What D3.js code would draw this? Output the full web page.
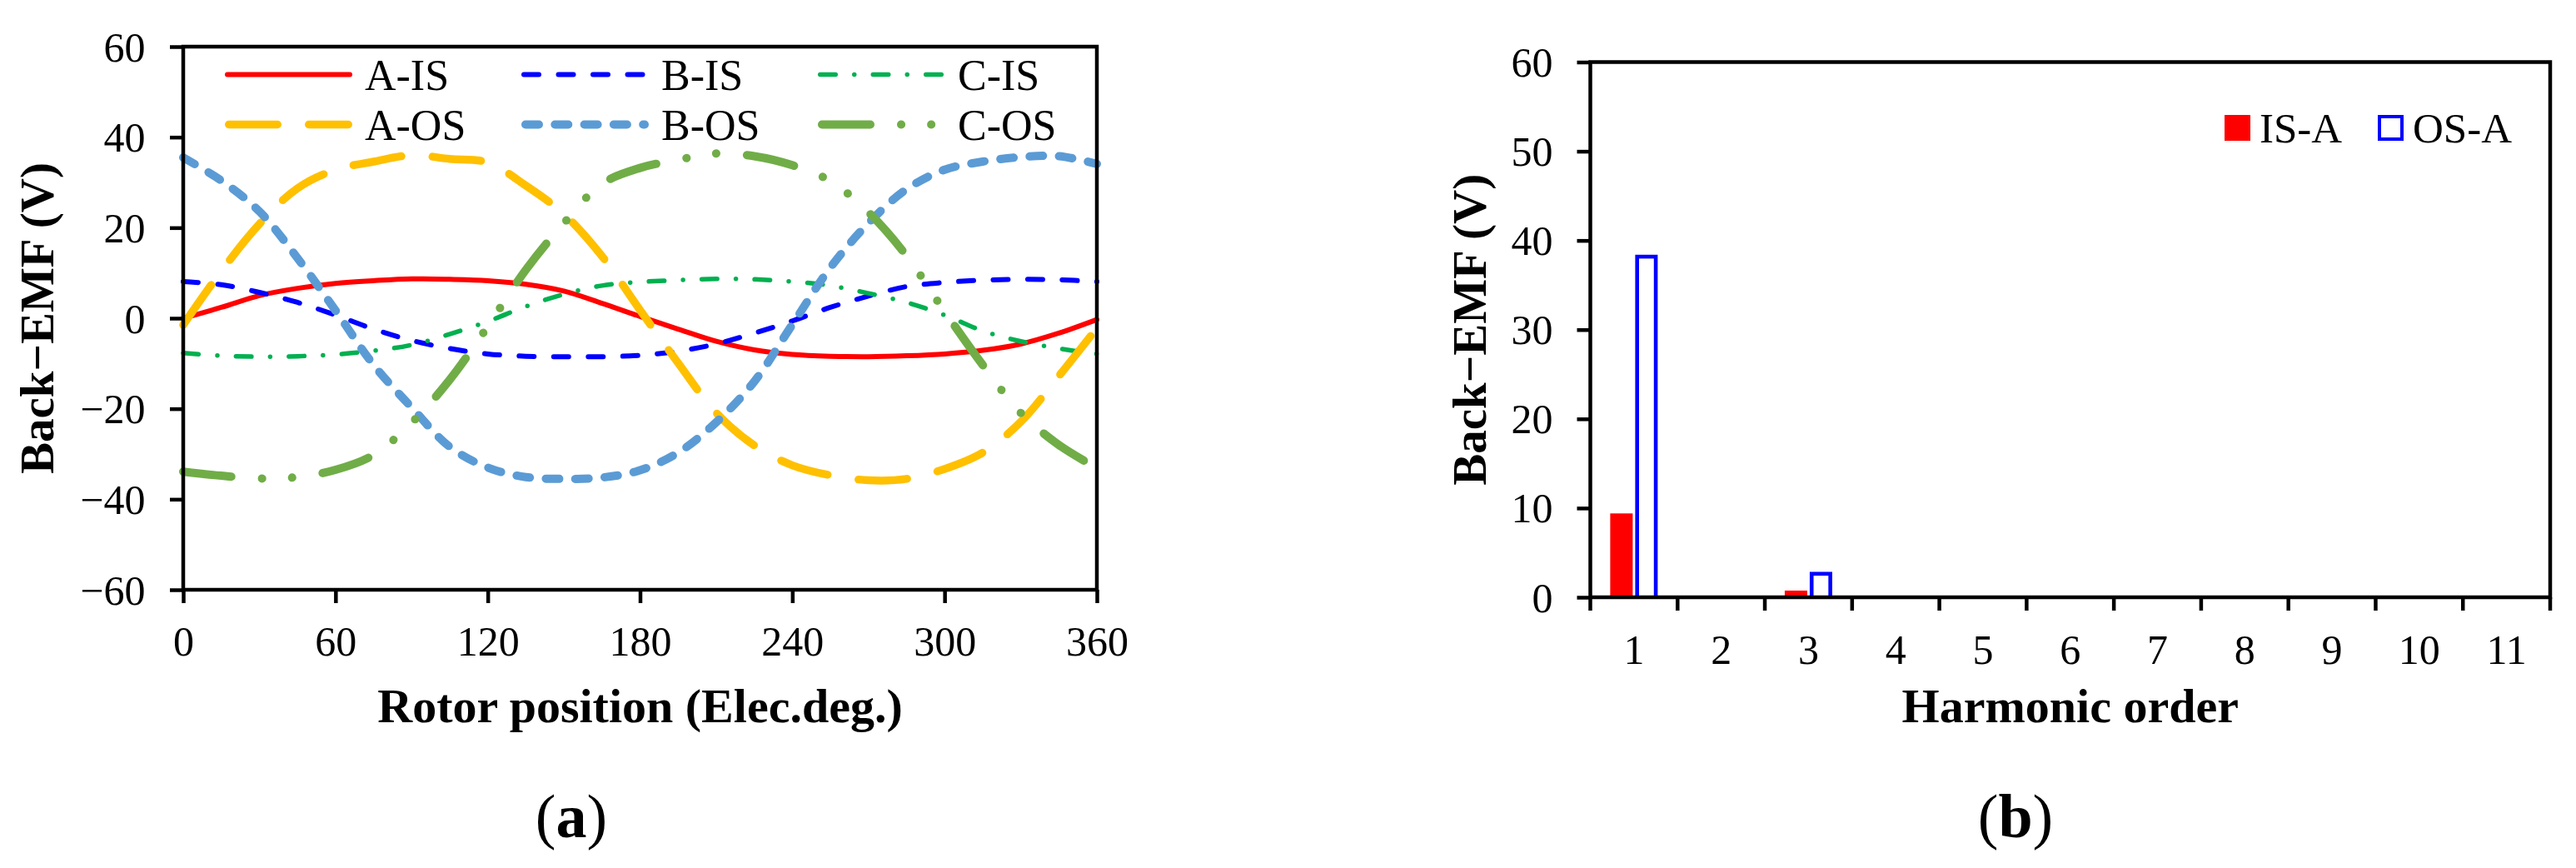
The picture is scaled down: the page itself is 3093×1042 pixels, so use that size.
<!DOCTYPE html>
<html>
<head>
<meta charset="utf-8">
<script src="https://cdn.jsdelivr.net/npm/d3@7"></script>
<style>
  body { margin: 0; background: #fff; }
  svg text { font-family: "Liberation Serif", "Times New Roman", serif; fill: #000; }
</style>
</head>
<body>
<div id="chart"></div>
<script>
// rotor position (elec. deg.), one reading every 15 deg
var angles = [0, 15, 30, 45, 60, 75, 90, 105, 120, 135, 150, 165, 180,
              195, 210, 225, 240, 255, 270, 285, 300, 315, 330, 345, 360];

// back-EMF, V
var aIS = [0, 2.4, 5.0, 6.6, 7.7, 8.3, 8.7, 8.6, 8.3, 7.5, 6.0, 3.3, 0.4,
           -2.4, -5.1, -7.0, -8.0, -8.4, -8.5, -8.3, -7.9, -7.1, -5.7, -3.3, -0.3];
var bIS = [8.1, 7.4, 5.7, 3.5, 0.7, -2.4, -4.9, -6.7, -7.9, -8.4, -8.5, -8.5, -8.2,
           -7.3, -5.7, -3.3, -0.6, 2.4, 4.9, 7.0, 7.9, 8.4, 8.6, 8.5, 8.1];
var cIS = [-7.7, -8.3, -8.5, -8.4, -8.0, -7.2, -5.9, -3.5, -0.7, 2.6, 5.3, 7.2, 8.0,
           8.4, 8.7, 8.6, 8.1, 7.2, 5.5, 3.5, 0.7, -2.8, -5.1, -6.7, -7.9];
var aOS = [-1.5, 10.4, 20.8, 28.7, 32.8, 34.6, 36.0, 35.2, 34.4, 29.3, 23.0, 13.7, 1.8,
           -9.9, -20.9, -28.1, -32.5, -34.7, -35.8, -35.5, -33.3, -29.7, -22.9, -12.8, -2.2];
var bOS = [35.5, 30.4, 23.6, 13.3, 1.7, -10.3, -19.7, -28.4, -33.0, -35.1, -35.5, -35.2, -33.6,
           -29.7, -23.0, -14.0, -1.4, 11.2, 21.0, 28.5, 32.8, 34.6, 35.6, 35.8, 34.1];
var cOS = [-33.9, -34.8, -35.4, -35.1, -33.5, -30.2, -23.1, -13.6, -1.8, 10.7, 21.0, 29.7, 33.2,
           35.0, 36.4, 35.8, 33.8, 30.3, 23.4, 13.8, 1.5, -10.3, -20.9, -28.0, -33.1];

var seriesNames = ['A-IS', 'B-IS', 'C-IS', 'A-OS', 'B-OS', 'C-OS'];
var seriesValues = [aIS, bIS, cIS, aOS, bOS, cOS];

// panel (b): harmonic amplitudes, V
var harmonics = [1, 2, 3, 4, 5, 6, 7, 8, 9, 10, 11];
var isA = [9.4, 0.15, 0.75, 0.15, 0.15, 0.15, 0.15, 0.15, 0.15, 0.15, 0.15];
var osA = [38.4, 0.15, 2.85, 0.15, 0.15, 0.15, 0.15, 0.15, 0.15, 0.15, 0.15];
var barNames = ['IS-A', 'OS-A'];

var xTicksA = [0, 60, 120, 180, 240, 300, 360];
var yTicksA = [-60, -40, -20, 0, 20, 40, 60];
var yTicksB = [0, 10, 20, 30, 40, 50, 60];

// line looks, same order as seriesNames
var styles = [
  {color: '#FF0000', width: 6,   dash: null},
  {color: '#0000FF', width: 6,   dash: '18,23.5'},
  {color: '#00B050', width: 5.5, dash: '18.5,22.5,0,22.5'},
  {color: '#FFC000', width: 9.5, dash: '58.5,37.5'},
  {color: '#5B9BD5', width: 10,  dash: '16,19.3'},
  {color: '#70AD47', width: 10,  dash: '58,37,0.1,36,0.1,37'}
];

var W = 3093, H = 1042;
var axisW = 4.5, tickLen = 16;

var svg = d3.select('#chart').append('svg')
    .attr('width', W).attr('height', H);

// ---------- panel (a) ----------
var pa = {left: 220, right: 1317, top: 56, bottom: 708};

var x = d3.scaleLinear().domain([0, 360]).range([pa.left, pa.right]);
var y = d3.scaleLinear().domain([-60, 60]).range([pa.bottom, pa.top]);

var ga = svg.append('g');

var line = d3.line()
    .x(function(d) { return x(d[0]); })
    .y(function(d) { return y(d[1]); })
    .curve(d3.curveCatmullRom.alpha(0.5));

ga.append('g').selectAll('path')
    .data(seriesValues)
    .enter()
    .append('path')
    .attr('d', function(vals) {
        return line(angles.map(function(a, i) { return [a, vals[i]]; }));
    })
    .attr('fill', 'none')
    .attr('stroke', function(d, i) { return styles[i].color; })
    .attr('stroke-width', function(d, i) { return styles[i].width; })
    .attr('stroke-dasharray', function(d, i) { return styles[i].dash; })
    .attr('stroke-linecap', 'round')
    .attr('stroke-linejoin', 'round');

// frame
ga.append('rect')
    .attr('x', pa.left).attr('y', pa.top)
    .attr('width', pa.right - pa.left).attr('height', pa.bottom - pa.top)
    .attr('fill', 'none').attr('stroke', '#000').attr('stroke-width', axisW);

var xAxisA = ga.append('g')
    .attr('transform', 'translate(0,' + pa.bottom + ')')
    .call(d3.axisBottom(x).tickValues(xTicksA).tickSize(tickLen).tickSizeOuter(0));
xAxisA.select('.domain').remove();
xAxisA.selectAll('line').attr('stroke-width', axisW);
xAxisA.selectAll('text').attr('y', 79).attr('dy', null)
    .style('font-size', '50px');

var yAxisA = ga.append('g')
    .attr('transform', 'translate(' + pa.left + ',0)')
    .call(d3.axisLeft(y).tickValues(yTicksA).tickSize(tickLen).tickPadding(29.5).tickSizeOuter(0));
yAxisA.select('.domain').remove();
yAxisA.selectAll('line').attr('stroke-width', axisW);
yAxisA.selectAll('text').attr('dy', '0.34em').style('font-size', '50px');

// legend (3 columns x 2 rows)
var legA = ga.append('g').selectAll('g')
    .data(seriesNames)
    .enter()
    .append('g')
    .attr('transform', function(d, i) {
        return 'translate(' + (270 + (i % 3) * 356) + ',' + (i < 3 ? 89.5 : 149.5) + ')';
    });
legA.append('line')
    .attr('x1', function(d, i) { return styles[i].width / 2; })
    .attr('x2', function(d, i) { return 153 - styles[i].width / 2; })
    .attr('stroke', function(d, i) { return styles[i].color; })
    .attr('stroke-width', function(d, i) { return styles[i].width; })
    .attr('stroke-dasharray', function(d, i) { return styles[i].dash; })
    .attr('stroke-linecap', 'round');
legA.append('text')
    .attr('x', 168).attr('y', 18.5)
    .style('font-size', '52px')
    .text(function(d) { return d; });

ga.append('text')
    .attr('x', (pa.left + pa.right) / 2).attr('y', 867)
    .attr('text-anchor', 'middle')
    .style('font-size', '58px').style('font-weight', 'bold')
    .text('Rotor position (Elec.deg.)');

ga.append('text')
    .attr('transform', 'translate(64,' + ((pa.top + pa.bottom) / 2) + ') rotate(-90)')
    .attr('text-anchor', 'middle')
    .style('font-size', '57px').style('font-weight', 'bold')
    .text('Back\u2212EMF (V)');

var capA = ga.append('text')
    .attr('x', 686).attr('y', 1005)
    .attr('text-anchor', 'middle')
    .style('font-size', '74px');
capA.append('tspan').text('(');
capA.append('tspan').style('font-weight', 'bold').text('a');
capA.append('tspan').text(')');

// ---------- panel (b) ----------
var pb = {left: 1909.5, right: 3062, top: 74.5, bottom: 717};

var xb = d3.scaleBand().domain(harmonics).range([pb.left, pb.right]).padding(0);
var yb = d3.scaleLinear().domain([0, 60]).range([pb.bottom, pb.top]);
var groupW = 57;
var xb1 = d3.scaleBand().domain(barNames).range([0, groupW]).paddingInner(0.1);

var gb = svg.append('g');

var barRows = harmonics.map(function(h, i) {
    return {h: h, vals: [isA[i], osA[i]]};
});
var groups = gb.append('g').selectAll('g')
    .data(barRows)
    .enter()
    .append('g')
    .attr('transform', function(d) {
        return 'translate(' + (xb(d.h) + (xb.bandwidth() - groupW) / 2) + ',0)';
    });

// IS-A: solid red
groups.append('rect')
    .attr('x', xb1('IS-A'))
    .attr('y', function(d) { return yb(d.vals[0]); })
    .attr('width', xb1.bandwidth())
    .attr('height', function(d) { return yb(0) - yb(d.vals[0]); })
    .attr('fill', '#FF0000');

// OS-A: blue outline drawn inside the bar
var sw = 4.6;
groups.append('rect')
    .attr('x', xb1('OS-A'))
    .attr('y', function(d) { return yb(d.vals[1]); })
    .attr('width', xb1.bandwidth())
    .attr('height', function(d) { return yb(0) - yb(d.vals[1]); })
    .attr('fill', '#0000FF');
groups.filter(function(d) { return yb(0) - yb(d.vals[1]) > 2 * sw; })
    .append('rect')
    .attr('x', xb1('OS-A') + sw)
    .attr('y', function(d) { return yb(d.vals[1]) + sw; })
    .attr('width', xb1.bandwidth() - 2 * sw)
    .attr('height', function(d) { return yb(0) - yb(d.vals[1]) - sw; })
    .attr('fill', '#fff');

gb.append('rect')
    .attr('x', pb.left).attr('y', pb.top)
    .attr('width', pb.right - pb.left).attr('height', pb.bottom - pb.top)
    .attr('fill', 'none').attr('stroke', '#000').attr('stroke-width', axisW);

// category ticks sit on the band edges, labels in the middle
var edges = harmonics.map(function(h) { return xb(h); }).concat([pb.right]);
var xAxisB = gb.append('g')
    .attr('transform', 'translate(0,' + pb.bottom + ')');
xAxisB.selectAll('line')
    .data(edges)
    .enter()
    .append('line')
    .attr('x1', function(d) { return d; }).attr('x2', function(d) { return d; })
    .attr('y1', 0).attr('y2', tickLen)
    .attr('stroke', '#000').attr('stroke-width', axisW);
xAxisB.selectAll('text')
    .data(harmonics)
    .enter()
    .append('text')
    .attr('x', function(d) { return xb(d) + xb.bandwidth() / 2; })
    .attr('y', 80)
    .attr('text-anchor', 'middle')
    .style('font-size', '50px')
    .text(function(d) { return d; });

var yAxisB = gb.append('g')
    .attr('transform', 'translate(' + pb.left + ',0)')
    .call(d3.axisLeft(yb).tickValues(yTicksB).tickSize(tickLen).tickPadding(29).tickSizeOuter(0));
yAxisB.select('.domain').remove();
yAxisB.selectAll('line').attr('stroke-width', axisW);
yAxisB.selectAll('text').attr('dy', '0.34em').style('font-size', '50px');

// legend
var legB = gb.append('g').selectAll('g')
    .data(barNames)
    .enter()
    .append('g')
    .attr('transform', function(d, i) { return 'translate(' + (2671 + i * 184) + ',138)'; });
legB.append('rect')
    .attr('x', function(d, i) { return i ? 2 : 0; })
    .attr('y', function(d, i) { return i ? 2 : 0; })
    .attr('width', function(d, i) { return i ? 27 : 31; })
    .attr('height', function(d, i) { return i ? 27 : 31; })
    .attr('fill', function(d, i) { return i ? '#fff' : '#FF0000'; })
    .attr('stroke', function(d, i) { return i ? '#0000FF' : 'none'; })
    .attr('stroke-width', 4);
legB.append('text')
    .attr('x', 42).attr('y', 33)
    .style('font-size', '51px')
    .text(function(d) { return d; });

gb.append('text')
    .attr('x', (pb.left + pb.right) / 2).attr('y', 867)
    .attr('text-anchor', 'middle')
    .style('font-size', '58px').style('font-weight', 'bold')
    .text('Harmonic order');

gb.append('text')
    .attr('transform', 'translate(1784,' + ((pb.top + pb.bottom) / 2) + ') rotate(-90)')
    .attr('text-anchor', 'middle')
    .style('font-size', '57px').style('font-weight', 'bold')
    .text('Back\u2212EMF (V)');

var capB = gb.append('text')
    .attr('x', 2420).attr('y', 1005)
    .attr('text-anchor', 'middle')
    .style('font-size', '74px');
capB.append('tspan').text('(');
capB.append('tspan').style('font-weight', 'bold').text('b');
capB.append('tspan').text(')');
</script>
</body>
</html>
